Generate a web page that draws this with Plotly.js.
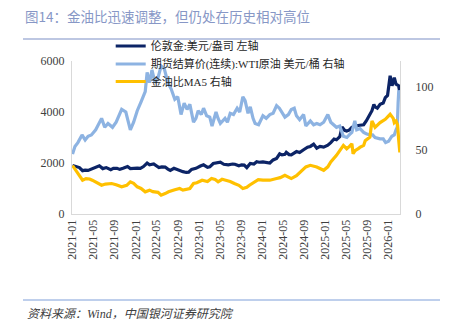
<!DOCTYPE html>
<html>
<head>
<meta charset="utf-8">
<script src="https://cdn.plot.ly/plotly-3.0.1.min.js"></script>
<style>html,body{margin:0;padding:0;background:#fff;}#chart{width:454px;height:323px;}</style>
</head>
<body>
<div id="chart"></div>
<script>
// 伦敦金:美元/盎司 (左轴)
var goldDates = ['2021-01-01','2021-01-20','2021-02-10','2021-02-28','2021-03-15','2021-04-01','2021-04-25','2021-05-20','2021-06-05','2021-06-25','2021-07-15','2021-08-10','2021-08-25','2021-09-15','2021-10-01','2021-10-20','2021-11-15','2021-12-01','2021-12-20','2022-01-10','2022-01-28','2022-02-15','2022-03-08','2022-03-22','2022-04-15','2022-05-01','2022-05-15','2022-06-01','2022-06-20','2022-07-06','2022-07-20','2022-08-10','2022-08-25','2022-09-15','2022-10-01','2022-10-20','2022-11-03','2022-11-20','2022-12-15','2023-01-10','2023-01-28','2023-02-20','2023-03-05','2023-03-25','2023-04-15','2023-05-05','2023-05-25','2023-06-20','2023-07-15','2023-07-28','2023-08-20','2023-09-05','2023-09-20','2023-10-05','2023-10-25','2023-11-15','2023-12-01','2023-12-15','2024-01-06','2024-01-25','2024-02-15','2024-03-05','2024-03-25','2024-04-12','2024-04-25','2024-05-12','2024-05-20','2024-06-05','2024-06-18','2024-07-18','2024-08-05','2024-08-28','2024-09-20','2024-10-06','2024-10-25','2024-11-12','2024-12-01','2024-12-22','2025-01-15','2025-02-01','2025-02-20','2025-03-06','2025-03-25','2025-04-07','2025-04-22','2025-05-04','2025-05-20','2025-06-03','2025-06-21','2025-07-19','2025-08-10','2025-08-25','2025-09-15','2025-09-27','2025-10-08','2025-10-15','2025-10-28','2025-11-13','2025-12-01','2025-12-13','2025-12-26','2026-01-01','2026-01-10','2026-01-21','2026-02-03','2026-02-13','2026-02-28','2026-03-07'];
var goldValues = [1900,1860,1820,1700,1720,1710,1780,1870,1890,1780,1820,1740,1790,1790,1750,1790,1860,1780,1800,1800,1790,1860,2000,1930,1960,1880,1820,1850,1840,1760,1710,1790,1750,1670,1660,1630,1640,1750,1790,1880,1930,1830,1850,1980,2000,2030,1950,1930,1960,1950,1890,1930,1920,1820,1980,1960,2050,2030,2040,2020,2000,2120,2180,2360,2320,2340,2420,2330,2320,2450,2410,2520,2620,2650,2740,2580,2650,2620,2700,2800,2940,2910,3030,3410,3280,3250,3300,3400,3450,3480,3500,3650,3950,4050,4300,4200,4150,4300,4350,4560,4650,4900,5420,5030,5350,5090,5030,4770];

// 期货结算价(连续):WTI原油 美元/桶 (右轴)
var oilDates = ['2021-01-01','2021-01-15','2021-02-01','2021-02-25','2021-03-15','2021-04-01','2021-04-20','2021-05-15','2021-06-18','2021-07-06','2021-07-25','2021-08-20','2021-09-10','2021-10-12','2021-11-05','2021-12-01','2021-12-20','2022-01-10','2022-02-01','2022-02-25','2022-03-08','2022-03-22','2022-04-05','2022-04-22','2022-05-10','2022-05-28','2022-06-15','2022-07-06','2022-07-25','2022-08-15','2022-09-01','2022-09-20','2022-10-08','2022-10-25','2022-11-10','2022-12-01','2022-12-15','2022-12-28','2023-01-15','2023-01-28','2023-02-15','2023-03-05','2023-03-18','2023-04-10','2023-04-22','2023-05-05','2023-06-01','2023-06-15','2023-07-01','2023-07-20','2023-08-10','2023-08-25','2023-09-12','2023-09-25','2023-10-12','2023-10-25','2023-11-10','2023-11-22','2023-12-12','2024-01-06','2024-01-25','2024-02-15','2024-03-05','2024-03-25','2024-04-10','2024-05-01','2024-05-12','2024-06-01','2024-06-18','2024-07-05','2024-07-18','2024-08-05','2024-08-28','2024-09-10','2024-10-06','2024-10-25','2024-11-12','2024-12-01','2024-12-22','2025-01-15','2025-02-01','2025-03-06','2025-03-25','2025-04-15','2025-05-05','2025-05-25','2025-06-03','2025-06-20','2025-07-01','2025-07-20','2025-08-10','2025-08-25','2025-09-15','2025-10-01','2025-10-15','2025-11-13','2025-12-01','2025-12-15','2026-01-01','2026-01-20','2026-02-03','2026-02-13','2026-02-20','2026-02-25','2026-03-01','2026-03-05','2026-03-08'];
var oilValues = [47,53,56,62,58,61,62,66,75,68,71,68,72,82,80,66,72,81,88,96,111,103,113,103,107,116,114,103,98,90,92,78,87,82,86,72,75,81,78,83,77,76,69,80,75,71,75,72,79,78,83,80,92,89,79,84,75,71,70,77,75,78,79,85,83,78,76,78,82,83,77,74,78,69,73,70,71,70,72,78,72,68,69,61,60,63,64,73,66,67,64,63,62,62,60,59,59,56,57,61,62,66,68,87,97,94,92];

// 金油比MA5 (右轴)
var ratioDates = ['2021-01-01','2021-01-20','2021-02-10','2021-02-28','2021-03-20','2021-04-10','2021-04-25','2021-05-20','2021-06-18','2021-07-10','2021-08-15','2021-09-10','2021-10-12','2021-11-10','2021-12-01','2021-12-20','2022-01-10','2022-02-01','2022-02-25','2022-03-22','2022-04-10','2022-05-10','2022-05-28','2022-06-20','2022-07-10','2022-08-15','2022-09-12','2022-10-01','2022-10-20','2022-11-10','2022-12-01','2022-12-20','2023-01-20','2023-02-20','2023-03-15','2023-04-05','2023-04-22','2023-05-15','2023-06-05','2023-07-01','2023-07-25','2023-08-20','2023-09-12','2023-10-05','2023-10-20','2023-11-15','2023-12-10','2024-01-06','2024-02-15','2024-03-25','2024-04-15','2024-05-12','2024-06-01','2024-06-18','2024-07-18','2024-08-10','2024-09-10','2024-10-06','2024-10-25','2024-11-12','2024-12-22','2025-01-15','2025-02-01','2025-03-06','2025-04-15','2025-05-04','2025-05-20','2025-06-03','2025-06-10','2025-06-21','2025-07-10','2025-07-19','2025-08-10','2025-08-19','2025-09-15','2025-09-27','2025-10-15','2025-11-13','2025-12-13','2026-01-10','2026-01-28','2026-02-03','2026-02-13','2026-02-22','2026-02-28','2026-03-04','2026-03-07'];
var ratioValues = [38,34,30,26.5,27.8,27.5,26.5,25,22.6,23.5,23.9,23,21.3,22.5,25.2,24,21.3,20,17.4,18.7,17.5,17,14.8,16,17.4,19,20,18.7,19.5,20,23.9,24.5,26.5,25.5,27.8,27,25.2,27.2,26.5,25.5,23.9,22.5,20,21,22.6,25,27,26.5,26.5,27.8,28.5,30.4,29,27.8,30,33,36.9,38.2,37.5,36.9,34.3,37,40.8,46,53.8,51.2,53,55.1,47.3,49.6,51.2,52.2,53.8,57.4,60.3,73,68,71.7,74.3,78.2,75,71.7,73,70,58.7,49.6,48.3];

var seriesNames = ['伦敦金:美元/盎司 左轴','期货结算价(连续):WTI原油 美元/桶 右轴','金油比MA5 右轴'];
var titleText = '图14：金油比迅速调整，但仍处在历史相对高位';
var sourceText = '资料来源：Wind，中国银河证券研究院';

var serif = 'Liberation Serif, Noto Sans CJK SC, serif';
var traces = [
  {x: goldDates, y: goldValues, name: seriesNames[0], type: 'scatter', mode: 'lines', yaxis: 'y',
   legend: 'legend', line: {color: '#0c2466', width: 3.2}},
  {x: oilDates, y: oilValues, name: seriesNames[1], type: 'scatter', mode: 'lines', yaxis: 'y2',
   legend: 'legend2', line: {color: '#8db3e2', width: 3.2}},
  {x: ratioDates, y: ratioValues, name: seriesNames[2], type: 'scatter', mode: 'lines', yaxis: 'y2',
   legend: 'legend3', line: {color: '#ffc000', width: 3.2}}
];

function legendAt(yPx) {
  return {x: 0.118, y: (214 - yPx) / 153, xanchor: 'left', yanchor: 'middle', bgcolor: 'rgba(0,0,0,0)',
          font: {family: serif, size: 11, color: '#262626'}, itemwidth: 30};
}

var layout = {
  width: 454, height: 323,
  margin: {l: 72, r: 54, t: 61, b: 109, pad: 0},
  paper_bgcolor: '#ffffff', plot_bgcolor: '#ffffff',
  showlegend: true,
  title: {text: titleText, xref: 'container', yref: 'container', x: 25/454, xanchor: 'left',
          y: 1 - 17/323, yanchor: 'middle',
          font: {family: 'Noto Sans CJK SC, sans-serif', size: 13.5, color: '#8797c6'}},
  legend: legendAt(46),
  legend2: legendAt(64),
  legend3: legendAt(81.5),
  xaxis: {type: 'date', range: ['2020-12-29', '2026-03-08'], tick0: '2021-01-01', dtick: 'M4',
          tickformat: '%Y-%m', tickangle: -90, showgrid: false, zeroline: false,
          showline: true, linecolor: '#d9d9d9', linewidth: 1, ticks: '',
          tickfont: {family: serif, size: 12, color: '#404040'}},
  yaxis: {range: [0, 6000], dtick: 2000, showgrid: false, zeroline: false,
          showline: true, linecolor: '#d9d9d9', linewidth: 1, ticks: '', ticklabelstandoff: 4,
          tickfont: {family: serif, size: 12, color: '#404040'}},
  yaxis2: {range: [0, 120], tickvals: [0, 50, 100], overlaying: 'y', side: 'right', showgrid: false,
           zeroline: false, showline: true, linecolor: '#d9d9d9', linewidth: 1, ticks: '', ticklabelstandoff: 12,
           tickfont: {family: serif, size: 12, color: '#404040'}},
  shapes: [
    {type: 'line', xref: 'paper', yref: 'paper', x0: (23-72)/328, x1: (440-72)/328,
     y0: (214-39)/153, y1: (214-39)/153, line: {color: '#a7b5d9', width: 1.5}},
    {type: 'line', xref: 'paper', yref: 'paper', x0: (23-72)/328, x1: (440-72)/328,
     y0: (214-300)/153, y1: (214-300)/153, line: {color: '#7f9fd9', width: 1}}
  ],
  annotations: [
    {text: sourceText, xref: 'paper', yref: 'paper', x: (25-72)/328, y: (214-314)/153,
     xanchor: 'left', yanchor: 'middle', showarrow: false,
     font: {family: 'Liberation Serif, Noto Sans CJK SC, serif', size: 12, color: '#404040', style: 'italic'}}
  ]
};

Plotly.newPlot('chart', traces, layout, {displayModeBar: false, staticPlot: true});
</script>
</body>
</html>
